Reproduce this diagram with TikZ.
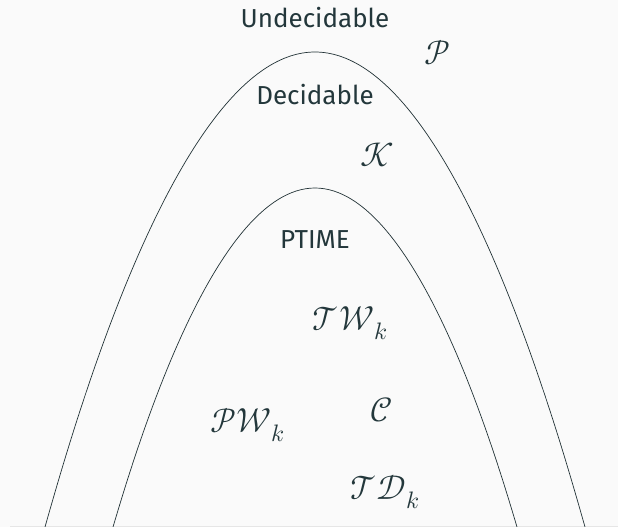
\documentclass[tikz,border=0pt]{standalone}
\usepackage{amsmath}
\usepackage{fontspec}
\usepackage{unicode-math}
\setmainfont{Fira Sans}
\IfFontExistsTF{Euler Math}{\setmathfont{Euler Math}}{\setmathfont{Latin Modern Math}}
\usepackage{tikz}
\definecolor{TextColor}{RGB}{35,55,59}
\definecolor{BgColor}{RGB}{250,250,250}
\definecolor{FrameGray}{RGB}{230,230,230}
\tikzset{
  classlabel/.style={text=TextColor, inner sep=0pt, font=\fontsize{26}{30}\selectfont},
  mathlabel/.style={text=TextColor, inner sep=0pt, font=\fontsize{34}{40}\selectfont},
  hull/.style={draw=TextColor!90!black, line width=0.7pt}
}

\begin{document}
\begin{tikzpicture}[x=1pt, y=-1pt]
        \fill[BgColor] (0,0) rectangle (618,527);
        \useasboundingbox (0,0) rectangle (618,527);
        \draw[FrameGray, line width=0.8pt] (10,526) -- (618,526);
        % the two regions
        \coordinate (outerL) at (45,527);  \coordinate (outerTop) at (315,52);  \coordinate (outerR) at (585,527);
        \coordinate (innerL) at (113,527); \coordinate (innerTop) at (315,188); \coordinate (innerR) at (517,527);
        \draw[hull] (outerL) parabola bend (outerTop) (outerR);
        \draw[hull] (innerL) parabola bend (innerTop) (innerR);
        % labels
        \node[classlabel] (undec) at (315,18) {Undecidable};
        \node[classlabel] (dec) at (315,95) {Decidable};
        \node[classlabel] (ptime) at (315,240) {PTIME};
        \node[mathlabel] (probs) at (437,53) {$\mathcal{P}$};
        \node[mathlabel] (kk) at (377,155) {$\mathcal{K}$};
        \node[mathlabel] (tw) at (350,323) {$\mathcal{TW}_k$};
        \node[mathlabel] (cc) at (382,410) {$\mathcal{C}$};
        \node[mathlabel] (pw) at (248,425) {$\mathcal{PW}_k$};
        \node[mathlabel] (td) at (385,492) {$\mathcal{TD}_k$};
      \end{tikzpicture}
\end{document}
